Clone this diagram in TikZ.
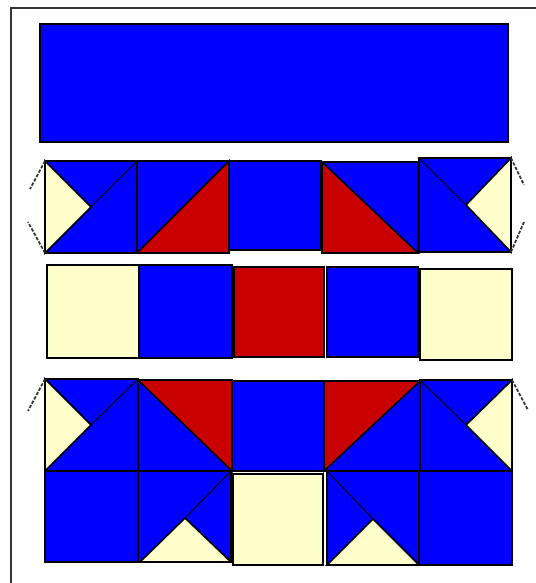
\documentclass[tikz,border=0pt]{standalone}
\usepackage{tikz}
\definecolor{quiltblue}{RGB}{0,0,255}
\definecolor{quiltred}{RGB}{200,0,0}
\definecolor{quiltcream}{RGB}{255,255,204}
\tikzset{
  patch/.style={draw=black,line width=1.2pt,line join=miter},
  bluepatch/.style={patch,fill=quiltblue},
  redpatch/.style={patch,fill=quiltred},
  creampatch/.style={patch,fill=quiltcream},
  seam/.style={draw=black,line width=0.7pt},
  fold/.style={draw=black!80,dash pattern=on 2.5pt off 1.2pt,line width=1.3pt},
  frameline/.style={draw=black!80,line width=1.5pt}
}

\begin{document}
\begin{tikzpicture}[x=0.75pt,y=-0.75pt]
\useasboundingbox (0,0) rectangle (536,583);
\draw[frameline] (11,583) -- (11,8) -- (536,8);
% top border strip
\draw[bluepatch,line width=0.9pt] (40,24) rectangle (508,142);
% row 1
\draw[bluepatch] (45,161) rectangle (137,253);
\draw[creampatch] (45,161) -- (91,207) -- (45,253) -- cycle;
\draw[seam] (91,207) -- (137,161);
\draw[fold] (45,161) -- (30,189);
\draw[fold] (45,253) -- (28,222);
\draw[bluepatch] (137,161) rectangle (229,253);
\draw[redpatch] (137,253) -- (229,161) -- (229,253) -- cycle;
\draw[bluepatch] (229,161) rectangle (321,250);
\draw[bluepatch] (322,162) rectangle (418,253);
\draw[redpatch] (322,162) -- (418,253) -- (322,253) -- cycle;
\draw[bluepatch] (419,158) rectangle (511,252);
\draw[creampatch] (511,158) -- (466,205) -- (511,252) -- cycle;
\draw[seam] (419,158) -- (466,205);
\draw[fold] (511,158) -- (524,185);
\draw[fold] (511,252) -- (524,222);
% row 2
\foreach \xa/\ya/\xb/\yb/\col in {47/265/139/358/quiltcream,139/265/232/358/quiltblue,
  234/267/324/357/quiltred,327/267/418/357/quiltblue,420/269/512/360/quiltcream}
  \draw[patch,fill=\col] (\xa,\ya) rectangle (\xb,\yb);
% row 3
\draw[bluepatch] (45,379) rectangle (138,471);
\draw[creampatch] (45,379) -- (91,425) -- (45,471) -- cycle;
\draw[seam] (91,425) -- (138,379);
\draw[fold] (45,379) -- (28,411);
\draw[bluepatch] (138,380) rectangle (232,471);
\draw[redpatch] (138,380) -- (232,380) -- (232,471) -- cycle;
\draw[bluepatch] (232,381) rectangle (324,471);
\draw[bluepatch] (324,381) rectangle (420,471);
\draw[redpatch] (324,381) -- (420,381) -- (324,471) -- cycle;
\draw[bluepatch] (420,380) rectangle (512,471);
\draw[creampatch] (512,380) -- (466,425) -- (512,471) -- cycle;
\draw[seam] (420,380) -- (466,425);
\draw[fold] (512,380) -- (528,410);
% row 4
\draw[bluepatch] (45,471) rectangle (138,562);
\draw[bluepatch] (138,471) rectangle (231,562);
\draw[creampatch] (140,562) -- (185,518) -- (231,562) -- cycle;
\draw[seam] (185,518) -- (231,471);
\draw[creampatch] (233,474) rectangle (323,565);
\draw[bluepatch] (327,471) rectangle (419,565);
\draw[creampatch] (327,565) -- (373,519) -- (419,565) -- cycle;
\draw[seam] (373,519) -- (327,471);
\draw[bluepatch] (419,471) rectangle (512,565);
\end{tikzpicture}
\end{document}
